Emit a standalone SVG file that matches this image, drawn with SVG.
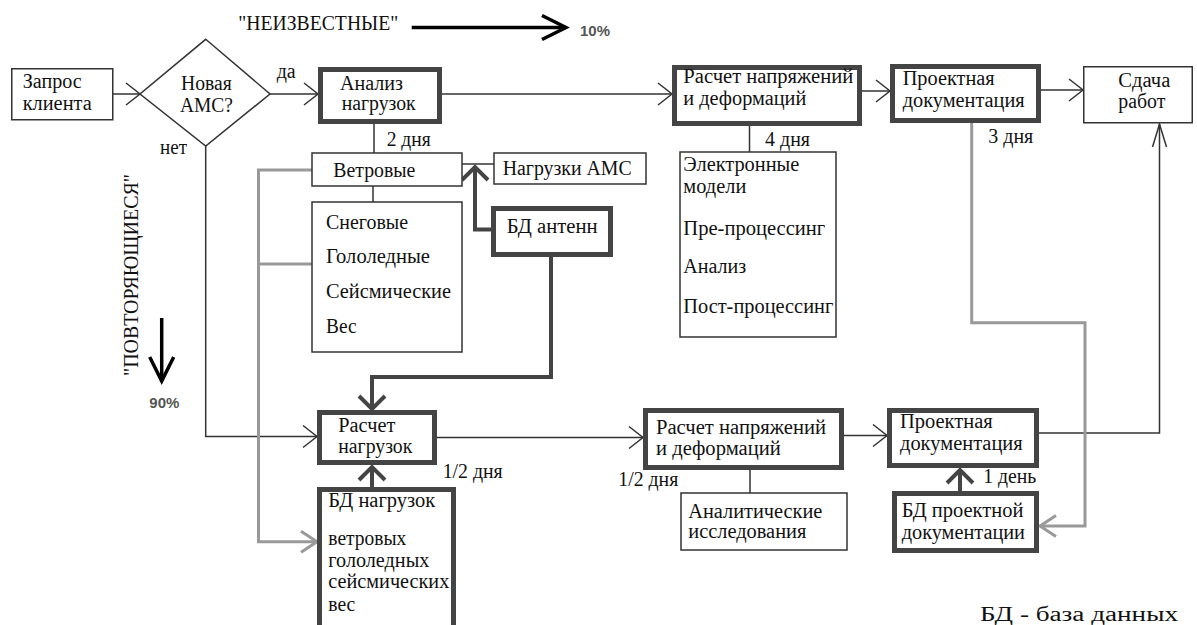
<svg xmlns="http://www.w3.org/2000/svg" width="1197" height="625" viewBox="0 0 1197 625">
<style>
.t{font-family:"Liberation Serif","Times New Roman",serif;font-size:20px;fill:#111}
.pct{font-family:"Liberation Sans",Arial,sans-serif;font-size:15px;font-weight:bold;fill:#555}
.thin{fill:#fff;stroke:#333;stroke-width:1.5}
.thick{fill:#fff;stroke:#444;stroke-width:5}
.c{fill:none;stroke:#333;stroke-width:1.5}
.d{fill:none;stroke:#444;stroke-width:4}
.g{fill:none;stroke:#999;stroke-width:3}
.b{fill:none;stroke:#000;stroke-width:3.5}
</style>
<defs>
<marker id="a" markerUnits="userSpaceOnUse" markerWidth="30" markerHeight="30" refX="14" refY="11" orient="auto" overflow="visible"><path d="M0,0 L14,11 L0,22" fill="none" stroke="#333" stroke-width="1.5"/></marker>
<marker id="an" markerUnits="userSpaceOnUse" markerWidth="30" markerHeight="30" refX="23" refY="7" orient="auto" overflow="visible"><path d="M0,0 L23,7 L0,14" fill="none" stroke="#333" stroke-width="1.5"/></marker>
<marker id="ad" markerUnits="userSpaceOnUse" markerWidth="30" markerHeight="30" refX="13" refY="13" orient="auto" overflow="visible"><path d="M0,0 L13,13 L0,26" fill="none" stroke="#444" stroke-width="4"/></marker>
<marker id="ag" markerUnits="userSpaceOnUse" markerWidth="30" markerHeight="30" refX="16" refY="10.5" orient="auto" overflow="visible"><path d="M0,0 L16,10.5 L0,21" fill="none" stroke="#999" stroke-width="3"/></marker>
<marker id="ab" markerUnits="userSpaceOnUse" markerWidth="30" markerHeight="30" refX="24" refY="12" orient="auto" overflow="visible"><path d="M0,0 L24,12 L0,24" fill="none" stroke="#000" stroke-width="3.5"/></marker>
</defs>
<rect width="1197" height="625" fill="#fff"/>

<g id="legend">
<text class="t" x="238.3" y="30" font-size="18" textLength="160" lengthAdjust="spacingAndGlyphs">"НЕИЗВЕСТНЫЕ"</text>
<path class="b" d="M411.7,27.5 H566" marker-end="url(#ab)"/>
<text class="pct" x="580" y="36" textLength="30" lengthAdjust="spacingAndGlyphs">10%</text>
<text class="t" transform="translate(138,376) rotate(-90)" font-size="19" fill="#14225a" textLength="202" lengthAdjust="spacingAndGlyphs">"ПОВТОРЯЮЩИЕСЯ"</text>
<path class="b" d="M161.7,318 V381" marker-end="url(#ab)"/>
<text class="pct" x="149.3" y="408" textLength="30" lengthAdjust="spacingAndGlyphs">90%</text>
<text class="t" x="980" y="621" font-size="26" textLength="198" lengthAdjust="spacingAndGlyphs">БД - база данных</text>
</g>

<g id="connectors">
<path class="c" d="M113,94 H140" marker-end="url(#a)"/>
<path class="c" d="M270,94 H318" marker-end="url(#a)"/>
<path class="c" d="M442,94 H672" marker-end="url(#a)"/>
<path class="c" d="M862,91 H890" marker-end="url(#a)"/>
<path class="c" d="M1041,90 H1083" marker-end="url(#a)"/>
<path class="c" d="M374,124 V153"/>
<path class="c" d="M373,186 V202"/>
<path class="c" d="M462,164 H494"/>
<path class="c" d="M749.5,126 V152"/>
<path class="c" d="M205.7,146 V436.5 H317" marker-end="url(#a)"/>
<path class="c" d="M437,437.5 H643" marker-end="url(#a)"/>
<path class="c" d="M844,435.5 H887" marker-end="url(#a)"/>
<path class="c" d="M750,470 V493"/>
<path class="c" d="M1039,433 H1159.5 V124" marker-end="url(#an)"/>
<path class="d" d="M491,229.5 H475 V167" marker-end="url(#ad)"/>
<path class="d" d="M551,257 V377 H372 V409" marker-end="url(#ad)"/>
<path class="d" d="M372,487 V467" marker-end="url(#ad)"/>
<path class="d" d="M960,491 V470" marker-end="url(#ad)"/>
<path class="g" d="M312,170 H258.5 V541.7 H317" marker-end="url(#ag)"/>
<path class="g" d="M258.5,264 H312"/>
<path class="g" d="M971.7,123 V322.7 H1085 V526 H1040" marker-end="url(#ag)"/>
</g>

<g id="n-zapros">
<rect class="thin" x="11.75" y="68.75" width="101" height="51"/>
<text class="t" x="22.7" y="88.3" textLength="59" lengthAdjust="spacingAndGlyphs">Запрос</text>
<text class="t" x="22.7" y="110" textLength="69" lengthAdjust="spacingAndGlyphs">клиента</text>
</g>

<g id="n-decision">
<polygon class="thin" points="205.7,39.3 270,94 205.7,146 140,94"/>
<text class="t" x="181" y="90" textLength="50.7" lengthAdjust="spacingAndGlyphs">Новая</text>
<text class="t" x="180" y="111.7" textLength="53" lengthAdjust="spacingAndGlyphs">АМС?</text>
<text class="t" x="276.7" y="78.3" textLength="19" lengthAdjust="spacingAndGlyphs">да</text>
<text class="t" x="160" y="154" textLength="27" lengthAdjust="spacingAndGlyphs">нет</text>
</g>

<g id="n-analiz">
<rect class="thick" x="320.5" y="69.5" width="119" height="52"/>
<text class="t" x="340" y="90" textLength="63" lengthAdjust="spacingAndGlyphs">Анализ</text>
<text class="t" x="341.7" y="110" textLength="74" lengthAdjust="spacingAndGlyphs">нагрузок</text>
<text class="t" x="386.7" y="145.7" textLength="44" lengthAdjust="spacingAndGlyphs">2 дня</text>
</g>

<g id="n-vetrovye">
<rect class="thin" x="312" y="153" width="150" height="33"/>
<text class="t" x="333.3" y="176.7" textLength="82" lengthAdjust="spacingAndGlyphs">Ветровые</text>
</g>

<g id="n-nagruzki-ams">
<rect class="thin" x="494" y="153" width="152" height="31"/>
<text class="t" x="502.7" y="175" textLength="129" lengthAdjust="spacingAndGlyphs">Нагрузки АМС</text>
</g>

<g id="n-vidy">
<rect class="thin" x="312" y="202" width="150" height="150"/>
<text class="t" x="326" y="229.3" textLength="82" lengthAdjust="spacingAndGlyphs">Снеговые</text>
<text class="t" x="326" y="263" textLength="104" lengthAdjust="spacingAndGlyphs">Гололедные</text>
<text class="t" x="326" y="298.3" textLength="125" lengthAdjust="spacingAndGlyphs">Сейсмические</text>
<text class="t" x="326" y="333.3" textLength="30.5" lengthAdjust="spacingAndGlyphs">Вес</text>
</g>

<g id="n-bd-antenn">
<rect class="thick" x="493.5" y="208.5" width="117" height="46"/>
<text class="t" x="506.7" y="233.3" textLength="91" lengthAdjust="spacingAndGlyphs">БД антенн</text>
</g>

<g id="n-raschet-top">
<rect class="thick" x="674.5" y="67.5" width="185" height="56"/>
<text class="t" x="683.3" y="83.3" textLength="170" lengthAdjust="spacingAndGlyphs">Расчет напряжений</text>
<text class="t" x="683.3" y="105" textLength="123" lengthAdjust="spacingAndGlyphs">и деформаций</text>
<text class="t" x="765" y="146" textLength="45" lengthAdjust="spacingAndGlyphs">4 дня</text>
</g>

<g id="n-elektronnye">
<rect class="thin" x="680" y="152" width="156" height="185"/>
<text class="t" x="683.3" y="171" textLength="116" lengthAdjust="spacingAndGlyphs">Электронные</text>
<text class="t" x="683.3" y="193" textLength="63" lengthAdjust="spacingAndGlyphs">модели</text>
<text class="t" x="683.3" y="235" textLength="142" lengthAdjust="spacingAndGlyphs">Пре-процессинг</text>
<text class="t" x="683.3" y="273.3" textLength="63" lengthAdjust="spacingAndGlyphs">Анализ</text>
<text class="t" x="683.3" y="313.3" textLength="150" lengthAdjust="spacingAndGlyphs">Пост-процессинг</text>
</g>

<g id="n-proekt-top">
<rect class="thick" x="892.5" y="66.5" width="146" height="54"/>
<text class="t" x="902.7" y="85" textLength="92" lengthAdjust="spacingAndGlyphs">Проектная</text>
<text class="t" x="902.7" y="106.7" textLength="122" lengthAdjust="spacingAndGlyphs">документация</text>
<text class="t" x="988.3" y="143.3" textLength="45" lengthAdjust="spacingAndGlyphs">3 дня</text>
</g>

<g id="n-sdacha">
<rect class="thin" x="1083.75" y="66.75" width="108.5" height="56"/>
<text class="t" x="1118.3" y="86.7" textLength="52" lengthAdjust="spacingAndGlyphs">Сдача</text>
<text class="t" x="1118.3" y="108.3" textLength="47" lengthAdjust="spacingAndGlyphs">работ</text>
</g>

<g id="n-raschet-nagruzok">
<rect class="thick" x="319.5" y="412.5" width="115" height="50"/>
<text class="t" x="338.3" y="431.7" textLength="57" lengthAdjust="spacingAndGlyphs">Расчет</text>
<text class="t" x="338.3" y="453" textLength="74" lengthAdjust="spacingAndGlyphs">нагрузок</text>
<text class="t" x="442.7" y="478.3" textLength="60" lengthAdjust="spacingAndGlyphs">1/2 дня</text>
</g>

<g id="n-bd-nagruzok">
<rect class="thick" x="319.5" y="489.5" width="134" height="150"/>
<text class="t" x="328.3" y="507.3" textLength="107" lengthAdjust="spacingAndGlyphs">БД нагрузок</text>
<text class="t" x="328.3" y="545" textLength="78" lengthAdjust="spacingAndGlyphs">ветровых</text>
<text class="t" x="328.3" y="566.7" textLength="101" lengthAdjust="spacingAndGlyphs">гололедных</text>
<text class="t" x="328.3" y="588.3" textLength="121" lengthAdjust="spacingAndGlyphs">сейсмических</text>
<text class="t" x="328.3" y="610.7" textLength="27" lengthAdjust="spacingAndGlyphs">вес</text>
</g>

<g id="n-raschet-bottom">
<rect class="thick" x="645.5" y="410.5" width="196" height="57"/>
<text class="t" x="656" y="434" textLength="170" lengthAdjust="spacingAndGlyphs">Расчет напряжений</text>
<text class="t" x="656" y="455" textLength="124.7" lengthAdjust="spacingAndGlyphs">и деформаций</text>
<text class="t" x="618.3" y="486" textLength="60" lengthAdjust="spacingAndGlyphs">1/2 дня</text>
</g>

<g id="n-analiticheskie">
<rect class="thin" x="681" y="493" width="166" height="57"/>
<text class="t" x="688.3" y="518.3" textLength="134" lengthAdjust="spacingAndGlyphs">Аналитические</text>
<text class="t" x="688.3" y="538.3" textLength="118" lengthAdjust="spacingAndGlyphs">исследования</text>
</g>

<g id="n-proekt-bottom">
<rect class="thick" x="889.5" y="410.5" width="147" height="55"/>
<text class="t" x="900" y="428" textLength="92.7" lengthAdjust="spacingAndGlyphs">Проектная</text>
<text class="t" x="900" y="450" textLength="122.7" lengthAdjust="spacingAndGlyphs">документация</text>
<text class="t" x="983.3" y="483" textLength="53" lengthAdjust="spacingAndGlyphs">1 день</text>
</g>

<g id="n-bd-proekt">
<rect class="thick" x="894.5" y="493.5" width="142" height="57"/>
<text class="t" x="901.7" y="516.7" textLength="121.7" lengthAdjust="spacingAndGlyphs">БД проектной</text>
<text class="t" x="901.7" y="539" textLength="123.3" lengthAdjust="spacingAndGlyphs">документации</text>
</g>
</svg>
